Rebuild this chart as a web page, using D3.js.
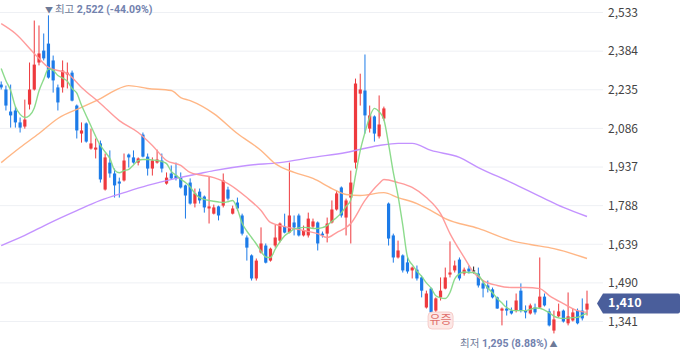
<!DOCTYPE html>
<html><head><meta charset="utf-8">
<script src="https://cdn.jsdelivr.net/npm/d3@7"></script>
<style>html,body{margin:0;padding:0;background:#fff;}svg{display:block;font-family:"Noto Sans CJK KR","Noto Sans",sans-serif;}</style>
</head><body><svg id="c" width="680" height="358"></svg>
<script>
// ---- data ----
const openV = [2255,2236,2151,2155,2109,2093,2178,2236,2340,2386,2413,2348,2244,2244,2294,2301,2174,2066,2105,2008,2004,2028,1850,1954,1912,1881,1885,1985,1974,1954,2062,1977,1931,1954,1962,1873,1912,1904,1896,1866,1877,1796,1842,1823,1777,1757,1785,1788,1850,1757,1800,1750,1665,1596,1507,1607,1634,1576,1634,1653,1707,1684,1723,1750,1673,1673,1707,1723,1680,1680,1723,1773,1858,1742,1819,1954,2220,2232,2085,2132,2055,2124,1796,1673,1588,1596,1569,1538,1541,1511,1395,1468,1383,1434,1468,1522,1538,1580,1526,1545,1538,1526,1488,1480,1465,1434,1383,1391,1383,1383,1460,1383,1372,1395,1395,1437,1380,1306,1361,1383,1334,1345,1383,1383,1387];
const highV = [2267,2251,2255,2170,2128,2197,2340,2502,2483,2452,2522,2367,2255,2348,2340,2309,2178,2109,2109,2085,2047,2039,1989,2001,1931,1896,1989,1989,2001,1974,2070,1989,1974,2004,1989,1916,1943,1954,1916,1869,1893,1854,1854,1827,1900,1792,1788,1912,1861,1788,1819,1757,1673,1600,1584,1704,1642,1626,1715,1723,1757,1954,1750,1757,1711,1761,1738,1727,1688,1742,1808,1846,1862,1815,1923,2278,2297,2371,2174,2136,2213,2170,1800,1680,1653,1600,1588,1553,1557,1518,1460,1472,1434,1511,1549,1650,1576,1588,1549,1557,1553,1549,1499,1499,1472,1437,1395,1422,1395,1449,1488,1403,1410,1410,1588,1449,1391,1383,1410,1387,1453,1391,1391,1430,1460];
const lowV = [2236,2155,2089,2089,2070,2085,2159,2232,2329,2348,2278,2224,2155,2224,2240,2190,2047,2031,2031,2004,1970,1877,1846,1896,1819,1819,1881,1935,1950,1943,1974,1904,1904,1950,1916,1869,1889,1885,1854,1738,1792,1781,1796,1761,1719,1754,1731,1781,1808,1754,1769,1673,1576,1499,1499,1603,1565,1572,1626,1646,1681,1681,1673,1669,1669,1665,1700,1615,1665,1646,1719,1769,1742,1673,1642,1931,2174,2066,2070,2035,2047,2116,1634,1568,1584,1530,1526,1507,1499,1434,1391,1372,1376,1422,1465,1511,1530,1499,1518,1526,1526,1472,1434,1453,1430,1390,1326,1364,1368,1376,1376,1353,1368,1368,1393,1399,1322,1295,1357,1337,1326,1341,1330,1345,1364];
const closeV = [2244,2174,2136,2109,2089,2120,2236,2332,2375,2356,2282,2271,2186,2309,2301,2193,2078,2078,2035,2028,2012,1889,1974,1912,1866,1873,1962,1974,1954,1970,1977,1931,1962,1966,1931,1896,1893,1893,1858,1827,1796,1835,1808,1781,1785,1781,1750,1885,1815,1777,1777,1680,1626,1507,1576,1642,1568,1622,1665,1719,1684,1750,1704,1673,1692,1738,1727,1642,1673,1719,1773,1835,1750,1808,1877,2259,2236,2136,2136,2066,2101,2163,1661,1588,1615,1538,1534,1549,1507,1460,1449,1376,1430,1460,1511,1530,1557,1507,1541,1534,1538,1480,1468,1468,1434,1391,1391,1383,1372,1422,1383,1376,1403,1376,1437,1403,1326,1349,1380,1341,1361,1376,1334,1353,1410];
// moving averages
const ma5 = [2317,2270,2232,2170,2140,2128,2136,2165,2230,2275,2315,2310,2290,2280,2268,2240,2222,2175,2135,2095,2055,2020,1995,1970,1925,1915,1923,1928,1945,1962,1966,1966,1964,1962,1958,1950,1920,1905,1890,1877,1860,1835,1819,1812,1808,1805,1802,1800,1803,1808,1775,1720,1690,1665,1640,1612,1590,1588,1620,1648,1672,1685,1698,1702,1704,1703,1700,1700,1703,1712,1728,1742,1760,1785,1810,1905,2000,2070,2130,2163,2150,2120,2025,1916,1826,1713,1590,1560,1535,1515,1490,1470,1440,1432,1430,1453,1505,1525,1532,1530,1530,1520,1495,1470,1452,1430,1412,1395,1385,1383,1383,1383,1388,1393,1392,1385,1375,1362,1355,1353,1354,1356,1357,1365,1372];
const ma20 = [[0,2490],[3,2452],[7,2375],[10,2321],[14,2298],[17,2244],[21,2182],[25,2116],[29,2070],[32,2020],[35,1962],[38,1943],[40,1916],[45,1896],[48,1873],[52,1819],[55,1769],[57,1723],[60,1707],[64,1692],[67,1680],[69,1665],[71,1684],[74,1719],[77,1808],[80,1873],[81,1889],[84,1877],[87,1858],[90,1819],[93,1757],[95,1680],[98,1588],[100,1530],[102,1499],[105,1480],[108,1472],[111,1472],[114,1468],[116,1441],[119,1410],[122,1383],[124,1376]];
const ma60 = [[0,1954],[4,2012],[8,2066],[12,2124],[17,2167],[21,2201],[24,2232],[27,2251],[31,2240],[36,2232],[38,2205],[40,2193],[45,2143],[50,2066],[55,2001],[58,1950],[62,1916],[66,1893],[70,1854],[73,1831],[76,1827],[81,1838],[84,1819],[88,1796],[91,1769],[94,1738],[101,1700],[108,1653],[112,1638],[117,1622],[124,1584]];
const ma120 = [[0,1634],[5,1673],[10,1719],[16,1769],[21,1808],[26,1838],[31,1866],[37,1893],[42,1912],[45,1923],[52,1943],[59,1954],[66,1974],[73,1993],[80,2020],[84,2028],[87,2028],[91,2001],[97,1974],[101,1935],[108,1877],[115,1815],[119,1781],[124,1746]];
const tickValues = [2533,2384,2235,2086,1937,1788,1639,1490,1341];
const eventIndex = 93, eventLabel = "유증";
const maxLabel = ["최고", "2,522 (-44.09%)"];
const minLabel = ["최저", "1,295 (8.88%)"];
const lastLabel = "1,410";

// ---- drawing ----
const svg = d3.select("#c");
const n = closeV.length;
const x = d3.scaleLinear().domain([0, n - 1]).range([1.2, 587]);
const y = d3.scaleLinear().domain([1341, 2533]).range([321.5, 12.5]);
const gridRight = 603;
const LABEL_FONT = "Roboto, 'Noto Sans CJK KR', sans-serif";

// grid
svg.append("g").selectAll("line").data(tickValues).join("line")
  .attr("x1", 0).attr("x2", gridRight)
  .attr("y1", d => y(d)).attr("y2", d => y(d))
  .attr("stroke", "#eef0f4").attr("stroke-width", 1);

// axis labels
const axis = d3.axisRight(y).tickValues(tickValues).tickSize(0).tickPadding(0).tickFormat(d3.format(","));
const ag = svg.append("g").attr("transform", `translate(608,0)`).call(axis);
ag.select(".domain").remove();
ag.selectAll("text").attr("fill", "#444").attr("font-size", 12).attr("font-family", "'Noto Sans CJK KR', sans-serif");

const RED = "#ee3a3e", BLUE = "#1c7be8";
const colorOf = i => closeV[i] > openV[i] ? RED : (closeV[i] < openV[i] ? BLUE : "#222");
const idx = d3.range(n);
const cg = svg.append("g");
cg.selectAll("line").data(idx).join("line")
  .attr("x1", i => x(i)).attr("x2", i => x(i))
  .attr("y1", i => y(highV[i])).attr("y2", i => y(lowV[i]))
  .attr("stroke", colorOf).attr("stroke-width", 1);
cg.selectAll("rect").data(idx).join("rect")
  .attr("x", i => x(i) - 1.6).attr("width", 3.2)
  .attr("y", i => y(Math.max(openV[i], closeV[i])))
  .attr("height", i => Math.max(1, Math.abs(y(openV[i]) - y(closeV[i]))))
  .attr("fill", colorOf);

// moving averages
const line = d3.line().x(d => x(d[0])).y(d => y(d[1])).curve(d3.curveMonotoneX);
const series = [
  {data: ma120, color: "#c08cff"},
  {data: ma60, color: "#ffb27e"},
  {data: ma20, color: "#ff9696"},
  {data: ma5.map((v, i) => [i, v]), color: "#86d986"}
];
svg.append("g").selectAll("path").data(series).join("path")
  .attr("d", s => line(s.data)).attr("fill", "none")
  .attr("stroke", s => s.color).attr("stroke-width", 1.4).attr("stroke-opacity", 0.95);

// max label
const iMax = d3.maxIndex(highV), iMin = d3.minIndex(lowV);
const mt = svg.append("text").attr("x", x(iMax) - 3.5).attr("y", y(highV[iMax]) - 2)
  .attr("font-size", 10.5).attr("font-family", LABEL_FONT).attr("fill", "#6d7a98");
mt.append("tspan").text("▼ ").attr("font-size", 8);
mt.append("tspan").text(maxLabel[0] + " ");
mt.append("tspan").text(maxLabel[1]).attr("font-weight", "bold").attr("fill", "#7282ae");

// min label
const nt = svg.append("text").attr("x", x(iMin) + 3.5).attr("y", y(lowV[iMin]) + 13.5)
  .attr("text-anchor", "end").attr("font-size", 10.5).attr("font-family", LABEL_FONT).attr("fill", "#6d7a98");
nt.append("tspan").text(minLabel[0] + " ");
nt.append("tspan").text(minLabel[1]).attr("font-weight", "bold").attr("fill", "#7282ae");
nt.append("tspan").text(" ▲").attr("font-size", 8);

// event badge
const ex = x(eventIndex), ey = y(1341) - 1;
const eg = svg.append("g");
eg.append("rect").attr("x", ex - 12.5).attr("y", ey - 8.5).attr("width", 25).attr("height", 17)
  .attr("rx", 4).attr("fill", "#fde8e6").attr("stroke", "#f4c4c0").attr("stroke-width", 0.8);
eg.append("text").attr("x", ex).attr("y", ey + 0.5).attr("text-anchor", "middle")
  .attr("dominant-baseline", "middle").attr("font-size", 12).attr("fill", "#e0706b").text(eventLabel);

// last price tag
const ly = y(closeV[n - 1]);
const tag = svg.append("g");
tag.append("path").attr("d", `M597,${ly} L603,${ly - 10} L678,${ly - 10} Q680,${ly - 10} 680,${ly - 8} L680,${ly + 8} Q680,${ly + 10} 678,${ly + 10} L603,${ly + 10} Z`)
  .attr("fill", "#4a5e9b");
tag.append("text").attr("x", 608).attr("y", ly).attr("dominant-baseline", "middle")
  .attr("font-size", 12.5).attr("font-weight", "bold").attr("fill", "#fff").text(lastLabel);
</script></body></html>
